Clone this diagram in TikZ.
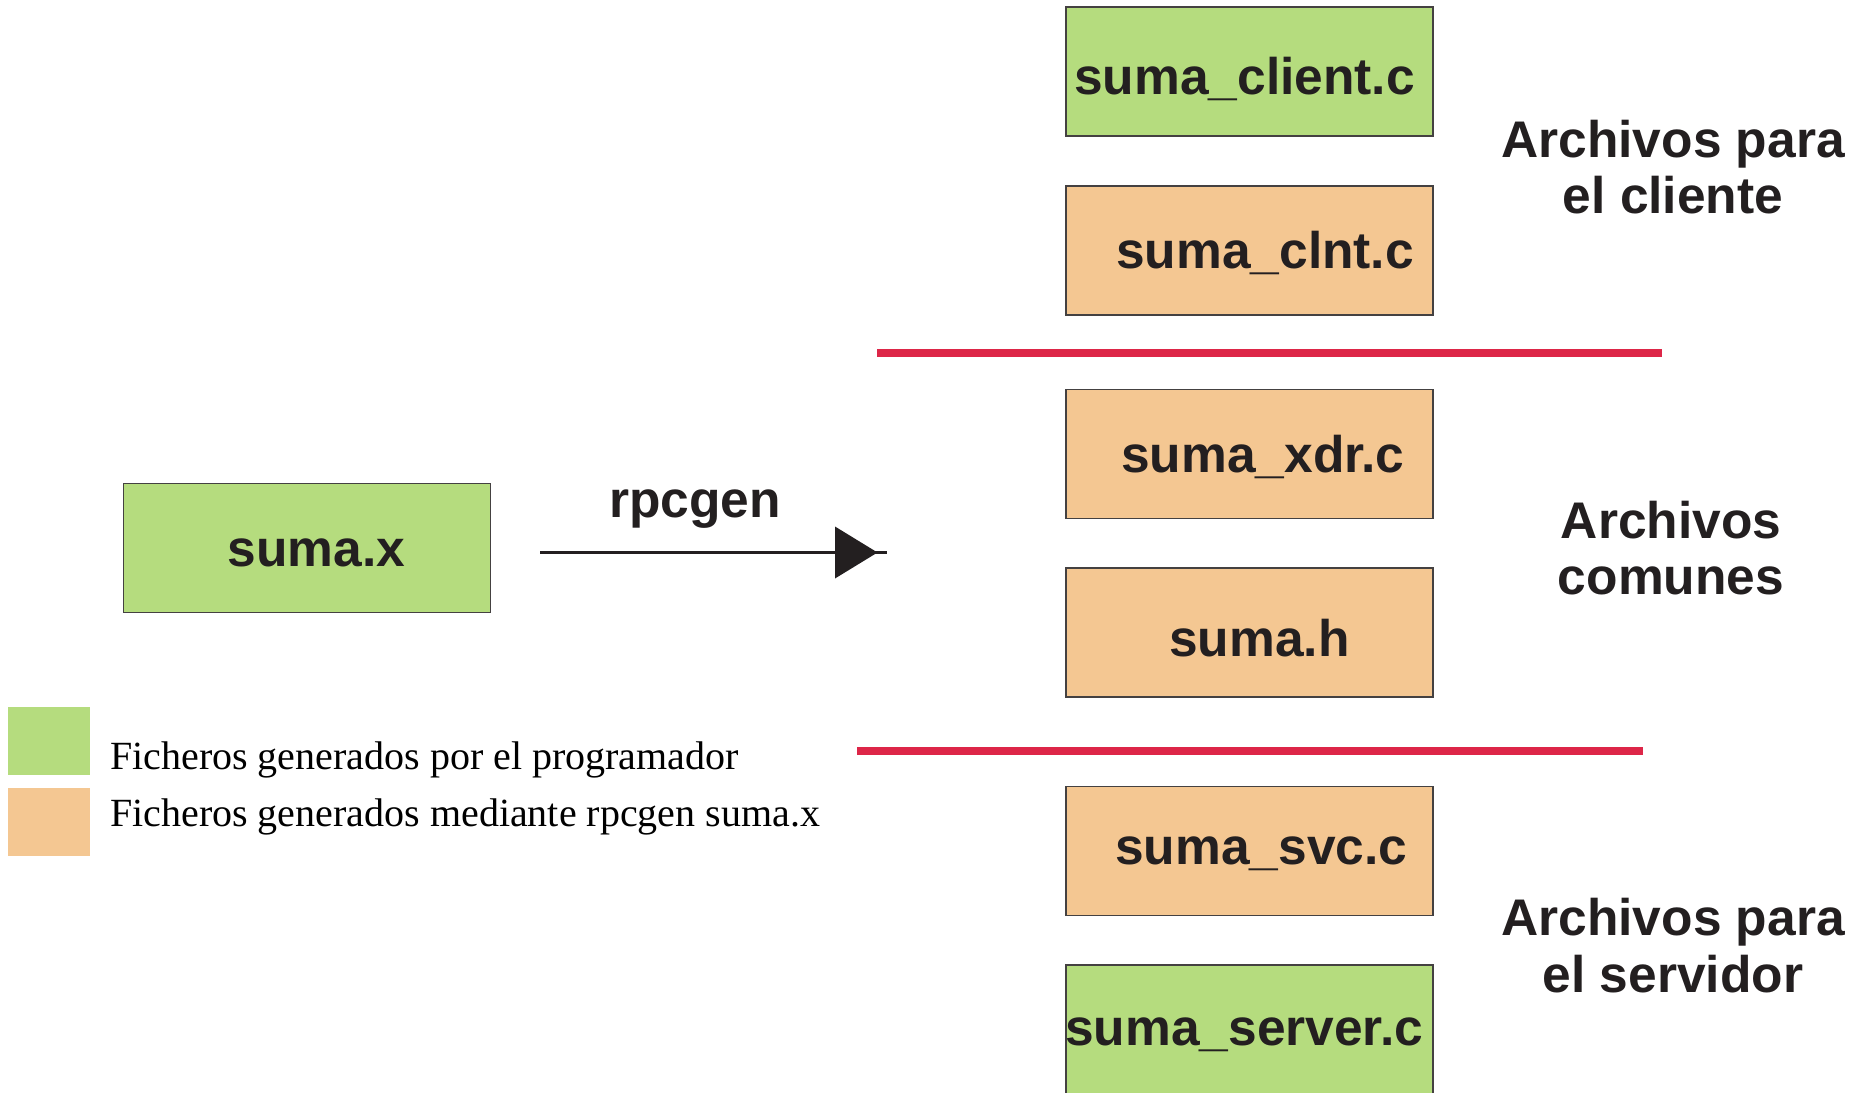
\documentclass[tikz,border=0pt]{standalone}
\usepackage{fontspec}
\setmainfont{Liberation Sans}
\newfontfamily\legendfont{Liberation Serif}
\definecolor{progGreen}{RGB}{181,220,126}
\definecolor{genOrange}{RGB}{244,199,146}
\definecolor{sepRed}{RGB}{221,38,72}
\definecolor{inkDark}{RGB}{35,31,32}
\tikzset{
  filebox/.style={draw=inkDark!85, line width=1.4pt, inner sep=0pt,
    minimum width=367pt, minimum height=129pt},
  userfile/.style={filebox, fill=progGreen},
  genfile/.style={filebox, fill=genOrange},
  fname/.style={anchor=base west, inner sep=0pt, text=inkDark,
    font=\fontsize{51.5pt}{56pt}\selectfont\bfseries},
  grouplabel/.style={anchor=base, inner sep=0pt, text=inkDark,
    font=\fontsize{51.5pt}{56pt}\selectfont\bfseries},
  legendtext/.style={anchor=base west, inner sep=0pt, text=black,
    font=\fontsize{40pt}{46pt}\legendfont},
  swatch/.style={inner sep=0pt, minimum width=82pt, minimum height=68pt},
  separator/.style={sepRed, line width=8pt},
  flow/.style={inkDark, line width=3pt}
}
\begin{document}
\begin{tikzpicture}[x=1pt, y=-1pt]
  \useasboundingbox (0,0) rectangle (1860,1092);

  % source file
  \node[userfile] (src) at (307,548) {};
  \node[fname] (srcT) at (227.5,566) {suma.x};

  % rpcgen step
  \coordinate (arrS) at (540,552.5);
  \coordinate (arrE) at (887,552.5);
  \coordinate (arrTip) at (877.5,552.5);
  \draw[flow] (arrS) -- (arrE);
  \fill[inkDark] (arrTip) -- ++(-42.5,-26) -- ++(0,52) -- cycle;
  \node[grouplabel] (gen) at (695,517.5) {rpcgen};

  % client files
  \node[userfile] (client) at (1249.5,71.5) {};
  \node[fname] (clientT) at (1074,94.5) {suma\_client.c};
  \node[genfile] (clnt) at (1249.5,250.5) {};
  \node[fname] (clntT) at (1116,268.5) {suma\_clnt.c};

  % shared files
  \node[genfile] (xdr) at (1249.5,454) {};
  \node[fname] (xdrT) at (1121,472.5) {suma\_xdr.c};
  \node[genfile] (hdr) at (1249.5,632.5) {};
  \node[fname] (hdrT) at (1169,656.5) {suma.h};

  % server files
  \node[genfile] (svc) at (1249.5,851) {};
  \node[fname] (svcT) at (1115,864.5) {suma\_svc.c};
  \node[userfile] (server) at (1249.5,1029.5) {};
  \node[fname] (serverT) at (1065,1045) {suma\_server.c};

  % group separators
  \coordinate (s1a) at (877,352.5);
  \coordinate (s1b) at (1662,352.5);
  \coordinate (s2a) at (857,751);
  \coordinate (s2b) at (1643,751);
  \draw[separator] (s1a) -- (s1b);
  \draw[separator] (s2a) -- (s2b);

  % group labels
  \node[grouplabel] (gc1) at (1673,157) {Archivos para};
  \node[grouplabel] (gc2) at (1673,213.5) {el cliente};
  \node[grouplabel] (gm1) at (1671,538) {Archivos};
  \node[grouplabel] (gm2) at (1671,594.5) {comunes};
  \node[grouplabel] (gs1) at (1673,935.5) {Archivos para};
  \node[grouplabel] (gs2) at (1673,992) {el servidor};

  % legend
  \node[swatch, fill=progGreen] (lg1) at (49,741) {};
  \node[swatch, fill=genOrange] (lg2) at (49,821.5) {};
  \node[legendtext] (lt1) at (110,769) {Ficheros generados por el programador};
  \node[legendtext] (lt2) at (110,826.5) {Ficheros generados mediante rpcgen suma.x};
\end{tikzpicture}
\end{document}
